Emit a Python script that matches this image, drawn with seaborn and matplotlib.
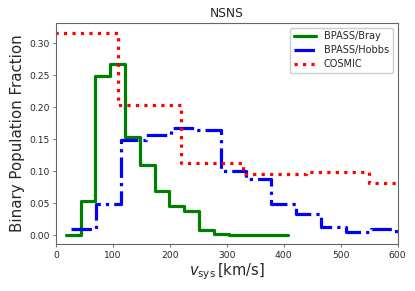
import matplotlib
matplotlib.use("Agg")
import matplotlib.pyplot as plt
import seaborn as sns
import numpy as np
import pandas as pd

# bin edges (km/s) and fractions
bray_edges = [17, 43, 69, 95, 121, 147, 173, 199, 225, 252, 278, 304, 330, 356, 382, 408]
bray_frac = [0.0, 0.054, 0.248, 0.267, 0.154, 0.109, 0.069, 0.045, 0.038, 0.0085,
             0.001, 0.0008, 0.0006, 0.0004, 0.0003]

hobbs_edges = [26, 70, 114, 158, 202, 246, 290, 334, 378, 422, 466, 510, 554, 598, 642]
hobbs_frac = [0.010, 0.049, 0.148, 0.157, 0.167, 0.164, 0.100, 0.087, 0.048, 0.0335,
              0.0125, 0.005, 0.010, 0.0]

cosmic_edges = [-1, 109, 219, 329, 439, 549, 659]
cosmic_frac = [0.316, 0.204, 0.112, 0.096, 0.099, 0.081]

labels = ['BPASS/Bray', 'BPASS/Hobbs', 'COSMIC']
colors = ['green', 'blue', 'red']
styles = ['-', '-.', ':']


def step_frame(edges, frac, name):
    # steps-post needs the last value repeated at the closing edge
    return pd.DataFrame({'v': edges, 'frac': list(frac) + [frac[-1]], 'model': name})


sns.set_style("ticks")
plt.rcParams['font.family'] = ['DejaVu Sans']

fig = plt.figure(figsize=(4.15, 2.91), dpi=100)
ax = fig.add_axes([0.135, 0.160, 0.823, 0.762])

frames = [step_frame(bray_edges, bray_frac, labels[0]),
          step_frame(hobbs_edges, hobbs_frac, labels[1]),
          step_frame(cosmic_edges, cosmic_frac, labels[2])]

for df, c, ls, lab in zip(frames, colors, styles, labels):
    sns.lineplot(data=df, x='v', y='frac', ax=ax, color=c, linestyle=ls,
                 linewidth=2.3, drawstyle='steps-post', estimator=None,
                 sort=False, label=lab)

ax.set_xlim(0, 600)
ax.set_ylim(-0.0146, 0.332)
ax.set_xticks(np.arange(0, 601, 100))
ax.set_yticks(np.arange(0, 0.31, 0.05))
ax.set_yticklabels(['%.2f' % t for t in np.arange(0, 0.31, 0.05)])
ax.tick_params(labelsize=6.6, length=2.5, width=0.6, color='0.35', pad=2)
for s in ax.spines.values():
    s.set_color('0.4')
    s.set_linewidth(0.8)

ax.set_title('NSNS', fontsize=8.8, pad=4)
ax.set_xlabel(r'$v_{\rm sys}\,$[km/s]', fontsize=10.5, labelpad=1)
ax.set_ylabel('Binary Population Fraction', fontsize=10.8, labelpad=3)

ax.legend(loc='upper right', fontsize=7, handlelength=2.3, framealpha=1,
          borderpad=0.4, labelspacing=0.4)

fig.savefig('out.png', dpi=100)
